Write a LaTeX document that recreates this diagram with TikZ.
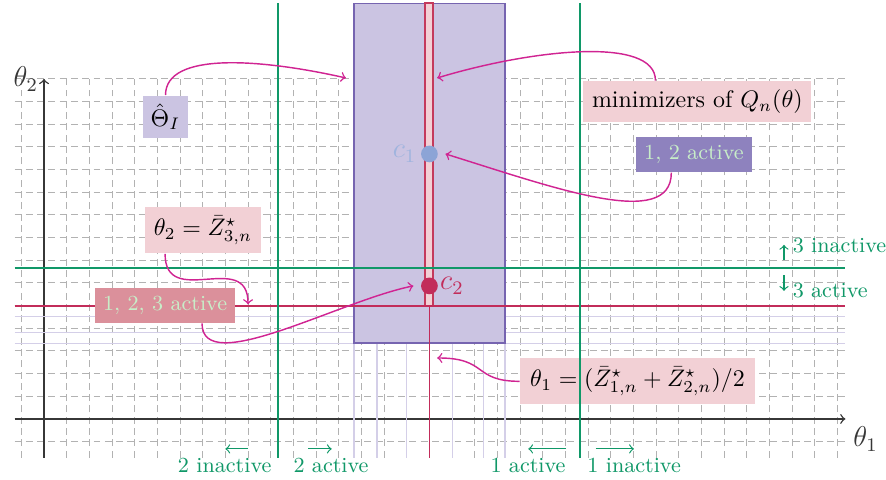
\documentclass[tikz,border=0pt]{standalone}
\usetikzlibrary{calc}
\definecolor{gridgray}{RGB}{178,178,178}
\definecolor{axisgray}{RGB}{55,55,55}
\definecolor{lav}{RGB}{203,196,226}
\definecolor{lavdraw}{RGB}{118,100,176}
\definecolor{lavline}{RGB}{212,207,232}
\definecolor{pinkbox}{RGB}{242,208,213}
\definecolor{stripred}{RGB}{196,58,92}
\definecolor{crim}{RGB}{194,44,90}
\definecolor{grn}{RGB}{16,152,104}
\definecolor{mag}{RGB}{208,36,146}
\definecolor{bluept}{RGB}{140,164,214}
\definecolor{bluelab}{RGB}{160,180,222}
\definecolor{purpbox}{RGB}{142,130,190}
\definecolor{rosebox}{RGB}{219,144,155}
\definecolor{mint}{RGB}{200,238,200}
\tikzset{
  gridline/.style={gridgray, line width=0.4pt, dash pattern=on 2.9pt off 1.82pt},
  axisline/.style={axisgray, line width=0.6pt, ->},
  lavln/.style={lavline, line width=0.6pt},
  grnline/.style={grn, line width=0.95pt},
  grnarrow/.style={grn, line width=0.5pt, ->},
  grnlbl/.style={text=grn, font=\small, inner sep=1pt},
  pinknode/.style={fill=pinkbox, inner sep=3.6pt},
  activebox/.style={text=mint, font=\small, inner sep=3.4pt},
  conn/.style={mag, line width=0.6pt, ->},
  ptnode/.style={circle, inner sep=0pt, minimum size=7pt}
}
\begin{document}
\begin{tikzpicture}[x=0.33333cm,y=0.33333cm]
\useasboundingbox (-1.941,-2.691) rectangle (37.14,18.48);
% grid
\draw[gridline, step=1] (-1.3,-1.7) grid (35.35,15);
% axes
\draw[axisline] (-1.3,0) -- (35.35,0) node[below right, inner sep=3pt, font=\large] (th1lab) {$\theta_1$};
\draw[axisline] (0,-1.7) -- (0,15) node[left, inner sep=2.2pt, font=\large] (th2lab) {$\theta_2$};
% light purple lines
\foreach \y in {4.51,3.82,3.34} \draw[lavln] (-1.3,\y) -- (35.35,\y);
\foreach \x in {13.67,14.68,16.0,18.03,19.38,20.33} \draw[lavln] (\x,-1.7) -- (\x,3.34);
% identified set rectangle
\draw[lavdraw, fill=lav, line width=0.7pt] (13.67,3.34) rectangle (20.33,18.33);
% strip of minimizers
\draw[crim, line width=0.6pt] (17,5) -- (17,-1.7);
\draw[stripred, fill=pinkbox, line width=0.8pt] (16.825,5) rectangle (17.175,18.33);
\draw[crim, line width=0.9pt] (-1.3,5) -- (35.35,5);
% points
\node[ptnode, fill=bluept] (c1) at (17,11.69) {};
\node[text=bluelab, anchor=east, inner sep=1pt, font=\large] (c1lab) at ([xshift=-0.6pt]c1.west) {$c_1$};
\node[ptnode, fill=crim] (c2) at (17,5.87) {};
\node[text=crim, anchor=west, inner sep=0.6pt, font=\large] (c2lab) at (c2.east) {$c_2$};
% boxes
\node[pinknode] (minim) at (28.82,14.0) {minimizers of $Q_n(\theta)$};
\node[fill=lav, inner sep=3.4pt] (thetahat) at (5.36,13.33) {$\hat\Theta_I$};
\node[activebox, fill=purpbox] (a12) at (28.67,11.65) {1, 2 active};
\node[pinknode] (th2eq) at (7.01,8.32) {$\theta_2=\bar Z^\star_{3,n}$};
\node[activebox, fill=rosebox] (a123) at (5.34,5) {1, 2, 3 active};
\node[pinknode, inner xsep=4.2pt] (th1eq) at (26.18,1.66) {$\theta_1=(\bar Z^\star_{1,n}+\bar Z^\star_{2,n})/2$};
% green lines
\draw[grnline] (10.32,-1.7) -- (10.32,18.35);
\draw[grnline] (23.64,-1.7) -- (23.64,18.35);
\draw[grnline] (-1.3,6.66) -- (35.35,6.66);
% green labels
\coordinate (u0) at (32.64,7.01); \coordinate (u1) at (32.64,7.68);
\draw[grnarrow] (u0) -- (u1);
\node[grnlbl, anchor=west] (l3in) at (32.9,7.63) {3 inactive};
\coordinate (d0) at (32.64,6.35); \coordinate (d1) at (32.64,5.65);
\draw[grnarrow] (d0) -- (d1);
\node[grnlbl, anchor=west] (l3a) at (32.9,5.65) {3 active};
\coordinate (a2i0) at (9.0,-1.32); \coordinate (a2i1) at (8.0,-1.32);
\draw[grnarrow] (a2i0) -- (a2i1);
\node[grnlbl] (l2in) at (7.97,-2.07) {2 inactive};
\coordinate (a2a0) at (11.66,-1.32); \coordinate (a2a1) at (12.69,-1.32);
\draw[grnarrow] (a2a0) -- (a2a1);
\node[grnlbl] (l2a) at (12.66,-2.07) {2 active};
\coordinate (a1a0) at (23.03,-1.32); \coordinate (a1a1) at (21.36,-1.32);
\draw[grnarrow] (a1a0) -- (a1a1);
\node[grnlbl] (l1a) at (21.35,-2.07) {1 active};
\coordinate (a1i0) at (24.33,-1.32); \coordinate (a1i1) at (26.02,-1.32);
\draw[grnarrow] (a1i0) -- (a1i1);
\node[grnlbl] (l1in) at (26.03,-2.07) {1 inactive};
% connectors
\coordinate (rectL) at (13.32,15.04);
\coordinate (stripR) at (17.34,15.04);
\coordinate (redhit) at (9.0,5.05);
\coordinate (stripB) at (17.34,2.69);
\draw[conn] (thetahat.north) .. controls (5.36,16.2) and (9.5,15.9) .. (rectL);
\draw[conn] ($(minim.north)+(-1.85,0)$) .. controls (26.97,16.9) and (21.5,16.3) .. (stripR);
\draw[conn] ($(a12.south)+(-1.0,0)$) .. controls (27.67,8.3) and (22.5,10.2) .. ([xshift=3pt]c1.east);
\draw[conn] ($(th2eq.south)+(-1.67,0)$) .. controls (5.34,4.8) and (9.0,7.5) .. (redhit);
\draw[conn] ($(a123.south)+(1.63,0)$) .. controls (6.97,1.8) and (13,5.2) .. ([xshift=-3pt]c2.west);
\draw[conn] (th1eq.west) .. controls (18.9,1.66) and (19.6,2.69) .. (stripB);
\end{tikzpicture}
\end{document}
